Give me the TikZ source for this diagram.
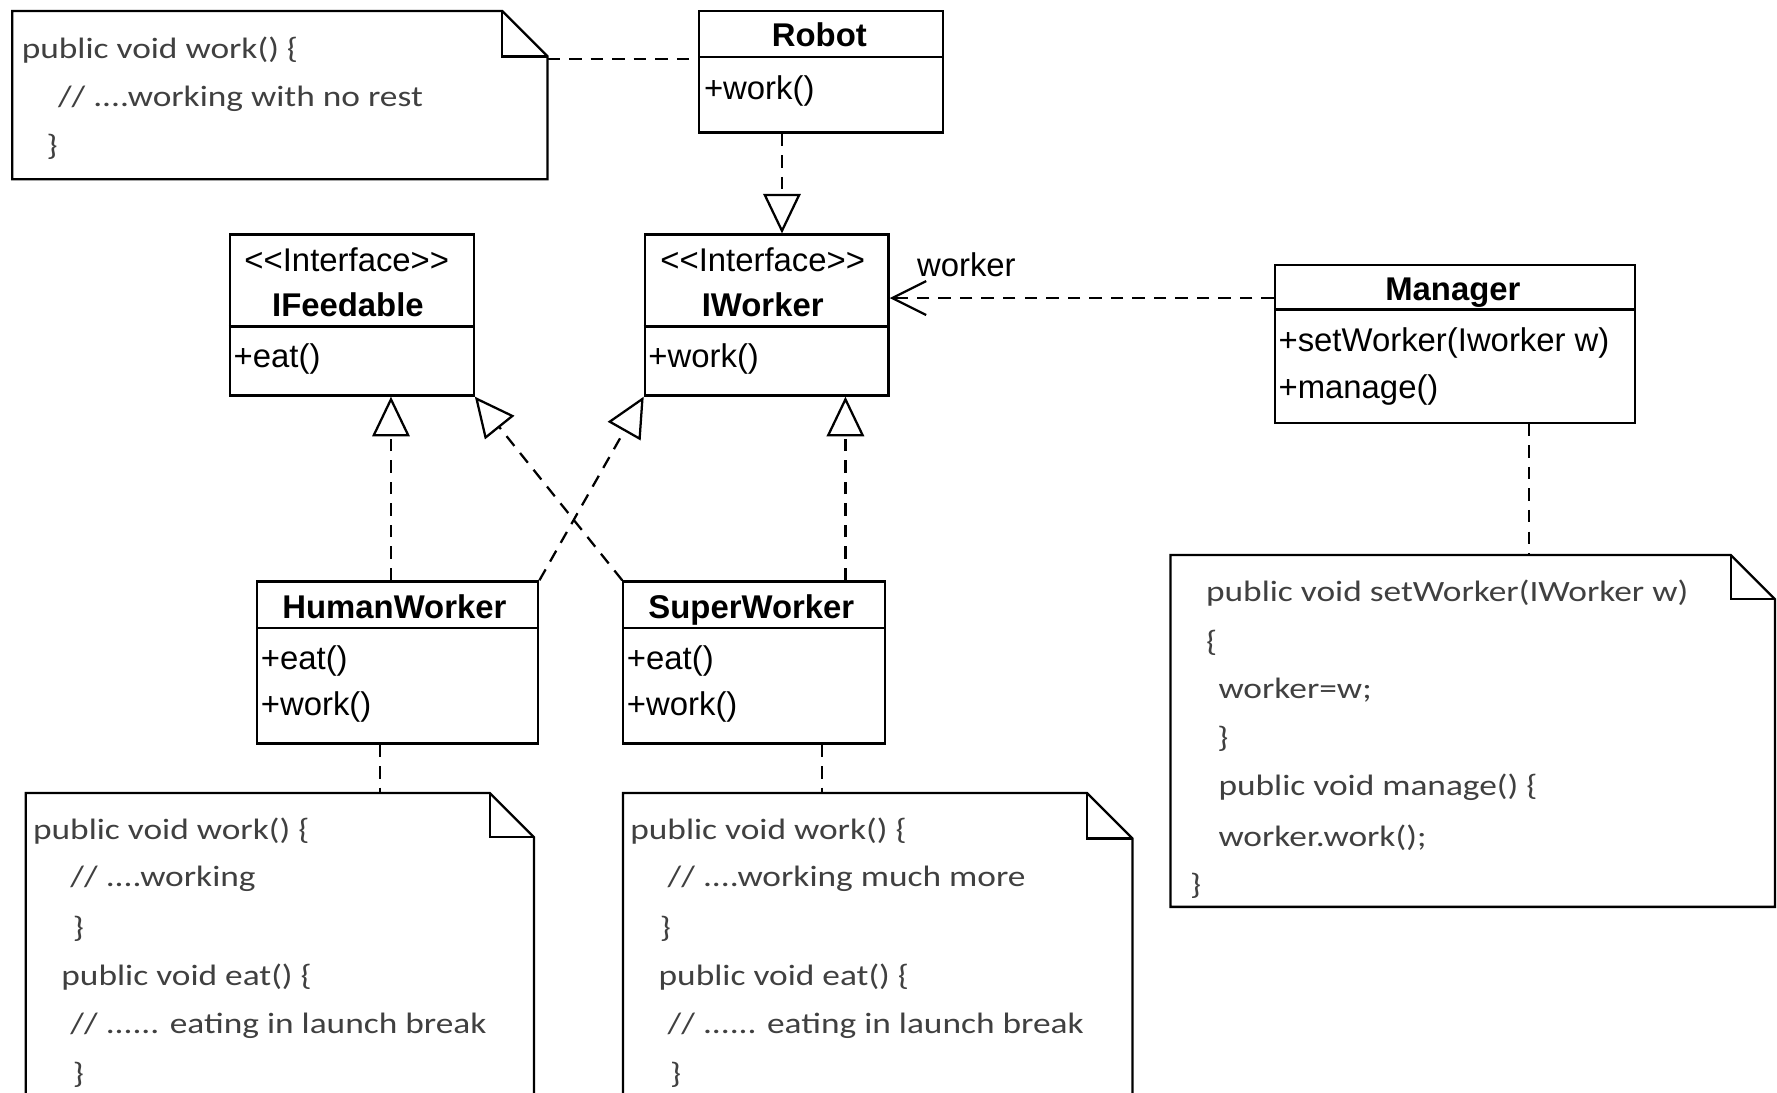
\documentclass[tikz,border=0pt]{standalone}
\usepackage{fontspec}
\setmainfont{Liberation Sans}
\newfontfamily\notefont[FakeStretch=1.2]{Carlito}
\usetikzlibrary{arrows.meta,calc}
\definecolor{notegray}{RGB}{64,64,64}
\begin{document}
\begin{tikzpicture}[x=1pt,y=-1pt,
  box/.style={draw, line width=2pt, inner sep=0pt},
  notebox/.style={inner sep=0pt},
  notel/.style={line width=2pt, line join=miter},
  cls/.style={font=\fontsize{29}{34}\selectfont, inner sep=0pt},
  clsb/.style={font=\fontsize{29}{34}\selectfont\bfseries, inner sep=0pt},
  mem/.style={cls, anchor=west},
  ntxt/.style={font=\notefont\fontsize{26}{30}\selectfont, text=notegray, anchor=west, inner sep=0pt},
  dep/.style={line width=2pt, dash pattern=on 11pt off 8pt},
  real/.style={dep, -{Triangle[open, length=35pt, width=33pt]}},
  uses/.style={dep, -{Straight Barb[length=30pt, width=30pt]}}
]
\useasboundingbox (0,0) rectangle (1568,964);
\fill[white] (0,0) rectangle (1568,964);
\clip (0,0) rectangle (1568,964);

% ---------- classes ----------
\node[box, minimum width=215pt, minimum height=107pt] (robot) at (724.5,63.5) {};
\draw[line width=2pt] (robot.west |- 0,50) -- (robot.east |- 0,50);
\node[clsb] (robotname) at (723,31) {Robot};
\node[mem] (robotm1) at (621,80) {+work()};

\node[box, minimum width=215pt, minimum height=142pt] (ifeed) at (310.5,278) {};
\draw[line width=2pt] (ifeed.west |- 0,288) -- (ifeed.east |- 0,288);
\node[cls] (ifeedst) at (306,229) {<{}<Interface>{}>};
\node[clsb] (ifeedname) at (307,269) {IFeedable};
\node[mem] (ifeedm1) at (206,317) {+eat()};

\node[box, minimum width=215pt, minimum height=142pt] (iworker) at (676.5,278) {};
\draw[line width=2pt] (iworker.west |- 0,288) -- (iworker.east |- 0,288);
\node[cls] (iworkerst) at (673,229) {<{}<Interface>{}>};
\node[clsb] (iworkername) at (673,269) {IWorker};
\node[mem] (iworkerm1) at (572,317) {+work()};

\node[box, minimum width=318pt, minimum height=139pt] (manager) at (1284,303.5) {};
\draw[line width=2pt] (manager.west |- 0,273) -- (manager.east |- 0,273);
\node[clsb] (managername) at (1282,258) {Manager};
\node[mem] (managerm1) at (1128,303) {+setWorker(Iworker w)};
\node[mem] (managerm2) at (1128,344) {+manage()};

\node[box, minimum width=248pt, minimum height=143pt] (hw) at (351,584.5) {};
\draw[line width=2pt] (hw.west |- 0,554) -- (hw.east |- 0,554);
\node[clsb] (hwname) at (348,535) {HumanWorker};
\node[mem] (hwm1) at (230,583) {+eat()};
\node[mem] (hwm2) at (230,624) {+work()};

\node[box, minimum width=231pt, minimum height=143pt] (sw) at (665.5,584.5) {};
\draw[line width=2pt] (sw.west |- 0,554) -- (sw.east |- 0,554);
\node[clsb] (swname) at (663,538) {SuperWorker};
\node[mem] (swm1) at (553,583) {+eat()};
\node[mem] (swm2) at (553,624) {+work()};

% ---------- notes ----------
\node[notebox, minimum width=472pt, minimum height=148pt] (note1) at (247,84) {};
\node[notebox, minimum width=533pt, minimum height=310pt] (noteR) at (1299.5,645) {};
\node[notebox, minimum width=448pt, minimum height=290pt] (noteBL) at (247,845) {};
\node[notebox, minimum width=449pt, minimum height=290pt] (noteBM) at (774.5,845) {};

\foreach \n/\f in {note1/40,noteR/39,noteBL/39,noteBM/40}{
  \draw[notel] (\n.north west) -- ($(\n.north east)+(-\f,0)$) -- ($(\n.north east)+(0,\f)$)
     -- (\n.south east) -- (\n.south west) -- cycle;
  \draw[notel] ($(\n.north east)+(-\f,0)$) |- ($(\n.north east)+(0,\f)$);
}

\node[ntxt] (t1a) at (19,44) {public void work() \{};
\node[ntxt] (t1b) at (51,87) {// ....working with no rest};
\node[ntxt] (t1c) at (41,130) {\}};

\node[ntxt] (tRa) at (1064,523) {public void setWorker(IWorker w)};
\node[ntxt] (tRb) at (1064,567) {\{};
\node[ntxt] (tRc) at (1075,609) {worker=w;};
\node[ntxt] (tRd) at (1074,652) {\}};
\node[ntxt] (tRe) at (1075,695) {public void manage() \{};
\node[ntxt] (tRf) at (1075,739) {worker.work();};
\node[ntxt] (tRg) at (1050,782) {\}};

\node[ntxt] (tLa) at (29,733) {public void work() \{};
\node[ntxt] (tLb) at (62,775) {// ....working};
\node[ntxt] (tLc) at (64,820) {\}};
\node[ntxt] (tLd) at (54,862) {public void eat() \{};
\node[ntxt] (tLe) at (62,905) {// ...... eating in launch break};
\node[ntxt] (tLf) at (64,948) {\}};

\node[ntxt] (tMa) at (556,733) {public void work() \{};
\node[ntxt] (tMb) at (589,775) {// ....working much more};
\node[ntxt] (tMc) at (582,820) {\}};
\node[ntxt] (tMd) at (581,862) {public void eat() \{};
\node[ntxt] (tMe) at (589,905) {// ...... eating in launch break};
\node[ntxt] (tMf) at (591,948) {\}};

% ---------- connectors ----------
\coordinate (ry) at (0,52);
\coordinate (rx) at (690,0);
\coordinate (ay) at (0,263);
\coordinate (fx) at (345,0);
\coordinate (wx) at (746,0);
\coordinate (mx) at (1349,0);
\coordinate (hx) at (335,0);
\coordinate (sx) at (725,0);

\draw[dep] (note1.east |- ry) -- (robot.west |- ry);
\draw[real] (robot.south -| rx) -- (iworker.north -| rx);
\draw[uses] (manager.west |- ay) -- (iworker.east |- ay);
\node[cls, anchor=west] (workerlbl) at (809,234) {worker};
\draw[real] (hw.north -| fx) -- (ifeed.south -| fx);
\draw[real] (sw.north -| wx) -- (iworker.south -| wx);
\draw[real] (hw.north east) -- (iworker.south west);
\draw[real] (sw.north west) -- (ifeed.south east);
\draw[dep] (manager.south -| mx) -- (noteR.north -| mx);
\draw[dep] (hw.south -| hx) -- (noteBL.north -| hx);
\draw[dep] (sw.south -| sx) -- (noteBM.north -| sx);
\end{tikzpicture}
\end{document}
